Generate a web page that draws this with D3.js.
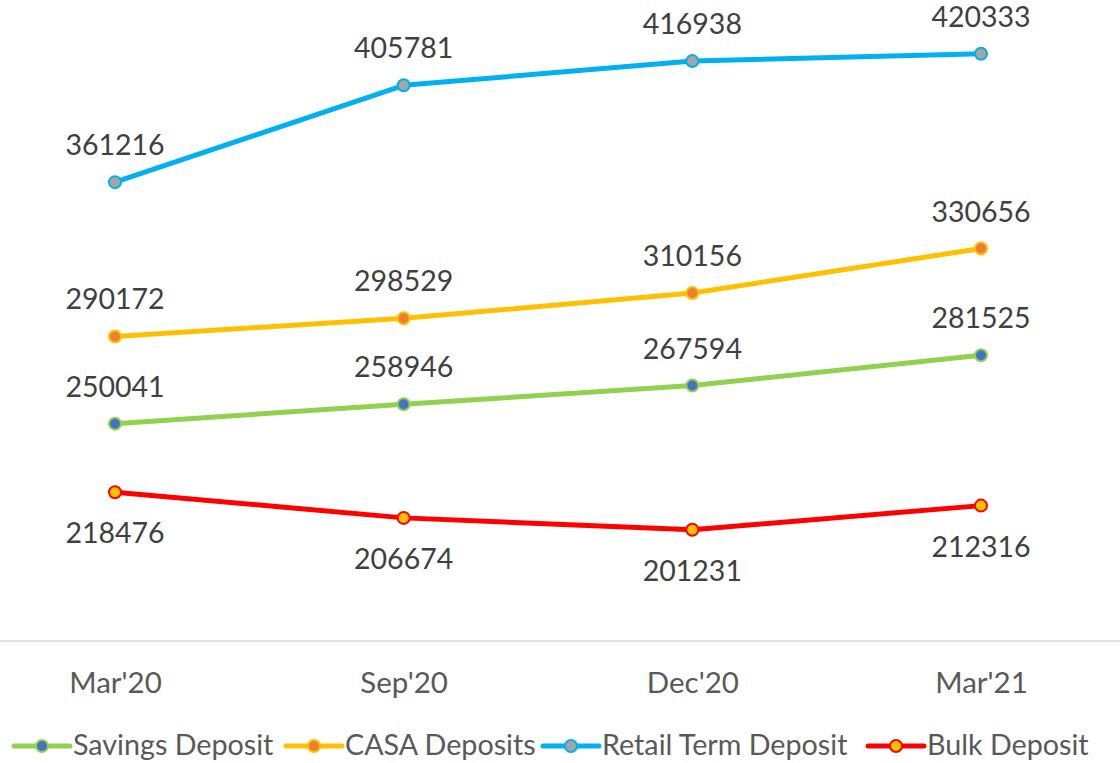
<!DOCTYPE html>
<html><head><meta charset="utf-8">
<script src="https://cdn.jsdelivr.net/npm/d3@7"></script>
<style>html,body{margin:0;padding:0;background:#fff;overflow:hidden}</style>
</head><body>
<svg id="c" width="1120" height="763"></svg>
<script>
const categories = ["Mar'20","Sep'20","Dec'20","Mar'21"];
const savingsDeposit = [250041,258946,267594,281525];
const casaDeposits = [290172,298529,310156,330656];
const retailTermDeposit = [361216,405781,416938,420333];
const bulkDeposit = [218476,206674,201231,212316];
const seriesNames = ["Savings Deposit","CASA Deposits","Retail Term Deposit","Bulk Deposit"];

const series = [
  {name:seriesNames[0], values:savingsDeposit, line:"#92D050", fill:"#4472C4", below:false},
  {name:seriesNames[1], values:casaDeposits, line:"#FFC000", fill:"#ED7D31", below:false},
  {name:seriesNames[2], values:retailTermDeposit, line:"#00B0F0", fill:"#A5A5A5", below:false},
  {name:seriesNames[3], values:bulkDeposit, line:"#FF0000", fill:"#FFC000", below:true}
];

const svg = d3.select("#c");
const font = "Lato, 'Open Sans', sans-serif";
const x = d3.scalePoint().domain(categories).range([115,981]);
const y = d3.scaleLinear().domain([150000,450000]).range([641,-10.75]);

// axis line
svg.append("line").attr("x1",0).attr("x2",1120).attr("y1",y(150000)).attr("y2",y(150000))
  .attr("stroke","#d9d9d9").attr("stroke-width",1.5);

const xAxis = d3.axisBottom(x).tickSize(0).tickPadding(0);
const gx = svg.append("g").attr("transform",`translate(0,${y(150000)})`).call(xAxis);
gx.select(".domain").remove();
gx.selectAll("text").attr("font-family",font).attr("font-size",29.5).attr("fill","#595959")
  .attr("dy",null).attr("y",52);

const line = d3.line().x((d,i)=>x(categories[i])).y(d=>y(d));

series.forEach(s=>{
  const g = svg.append("g");
  g.append("path").datum(s.values).attr("d",line).attr("fill","none")
    .attr("stroke",s.line).attr("stroke-width",5).attr("stroke-linecap","round").attr("stroke-linejoin","round");
  g.selectAll("circle").data(s.values).join("circle")
    .attr("cx",(d,i)=>x(categories[i])).attr("cy",d=>y(d)).attr("r",6)
    .attr("fill",s.fill).attr("stroke",s.line).attr("stroke-width",2);
  g.selectAll("text").data(s.values).join("text")
    .attr("x",(d,i)=>x(categories[i])).attr("y",d=>y(d)+(s.below?51:-27))
    .attr("text-anchor","middle").attr("font-family",font).attr("font-size",28.5)
    .attr("fill","#404040").text(d=>d);
});

// legend
const legX = [14,286,543,868];
const legY = 746;
series.forEach((s,i)=>{
  const g = svg.append("g").attr("transform",`translate(${legX[i]},${legY})`);
  g.append("line").attr("x1",0).attr("x2",56).attr("stroke",s.line).attr("stroke-width",5).attr("stroke-linecap","round");
  g.append("circle").attr("cx",28).attr("r",6).attr("fill",s.fill).attr("stroke",s.line).attr("stroke-width",2);
  g.append("text").attr("x",59).attr("y",9).attr("font-family",font).attr("font-size",28.7)
    .attr("fill","#595959").text(s.name);
});
</script>
</body></html>
